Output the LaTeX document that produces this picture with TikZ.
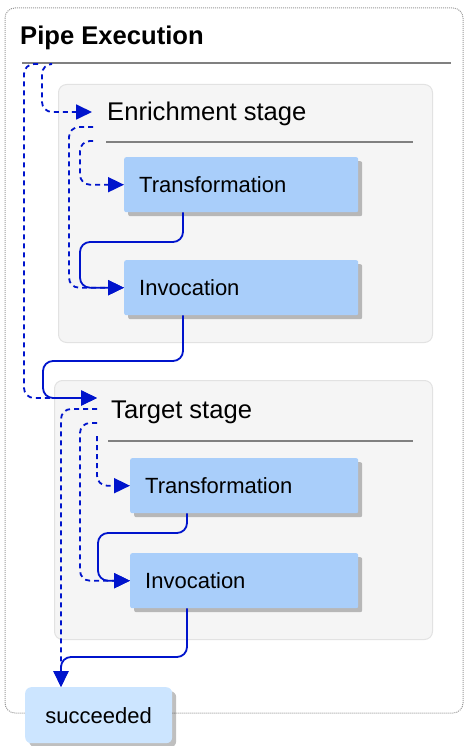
\documentclass[tikz,border=0pt]{standalone}
\usepackage{fontspec}
\setmainfont{Liberation Sans}
\usetikzlibrary{arrows.meta,shadows}

\definecolor{flowblue}{RGB}{0,20,204}
\definecolor{taskfill}{RGB}{169,206,250}
\definecolor{donefill}{RGB}{204,229,255}
\definecolor{stagefill}{RGB}{245,245,245}
\definecolor{stageline}{RGB}{226,226,226}
\definecolor{headline}{RGB}{128,128,128}

\newcommand{\headfont}{\fontsize{25.6}{30}\selectfont}
\newcommand{\taskfont}{\fontsize{22}{26}\selectfont}

\tikzset{
  flow/.style={draw=flowblue, line width=1.8pt, rounded corners=10pt,
    -{Triangle[length=16pt,width=15pt]}},
  altflow/.style={flow, dash pattern=on 5pt off 4pt},
  stagebox/.style={draw=stageline, line width=1pt, fill=stagefill,
    rounded corners=8pt, anchor=north west, inner sep=0},
  taskbox/.style={fill=taskfill, rounded corners=2pt, anchor=north west,
    minimum height=55pt, text width=#1, align=left, inner xsep=15pt,
    font=\taskfont,
    drop shadow={shadow xshift=4pt, shadow yshift=-4pt, fill=black, opacity=0.25}},
  donebox/.style={fill=donefill, rounded corners=6pt, anchor=north west,
    minimum width=147pt, minimum height=56pt, font=\taskfont,
    drop shadow={shadow xshift=4pt, shadow yshift=-4pt, fill=black, opacity=0.25}},
  headtext/.style={anchor=base west, inner sep=0, font=\headfont}
}

\begin{document}
\begin{tikzpicture}[x=1pt, y=-1pt]
\useasboundingbox (0,0) rectangle (465,746);

% outer pipe
\draw[gray!80, line width=1pt, dash pattern=on 1pt off 1pt, rounded corners=10pt] (5,8) rectangle (463,713);
\node[headtext, font=\bfseries\headfont] (pipetitle) at (20,45) {Pipe Execution};
\draw[headline, line width=1.2pt] (22,63) -- (451,63);

% stages
\node[stagebox, minimum width=374pt, minimum height=258pt] (enrstage) at (58,84) {};
\node[headtext] (enrhead) at (107,121) {Enrichment stage};
\draw[headline, line width=1.2pt] (106,142) -- (413,142);

\node[stagebox, minimum width=378pt, minimum height=259pt] (tgtstage) at (54,380) {};
\node[headtext] (tgthead) at (111,418) {Target stage};
\draw[headline, line width=1.2pt] (108,441) -- (413,441);

% tasks
\node[taskbox=204pt] (etrans) at (124,157) {Transformation};
\node[taskbox=204pt] (einv) at (124,260) {Invocation};
\node[taskbox=198pt] (ttrans) at (130,458) {Transformation};
\node[taskbox=198pt] (tinv) at (130,553) {Invocation};
\node[donebox] (succ) at (25,687) {succeeded};

% ports
\coordinate (pipeout1) at (50,64);
\coordinate (pipeout2) at (38,64);
\coordinate (enrin) at (92,112);
\coordinate (enrout1) at (93,127);
\coordinate (enrout2) at (93,141);
\coordinate (tgtin) at (97,398);
\coordinate (tgtout1) at (97,409);
\coordinate (tgtout2) at (97,423);
\coordinate (tgtout3) at (97,436);

% connectors
\draw[altflow] (pipeout1) -- (42,64) |- (enrin);
\draw[altflow] (pipeout2) -- (24,64) |- (tgtin);
\draw[altflow] (enrout1) -- (69,127) |- (einv.west);
\draw[altflow] (enrout2) -- (80,141) |- (etrans.west);
\draw[flow] ([xshift=59pt]etrans.south west) |- (80,242) |- (einv.west);
\draw[flow] ([xshift=59pt]einv.south west) |- (43,361) |- (tgtin);
\draw[altflow] (tgtout1) -| ([xshift=36pt]succ.north west);
\draw[altflow] (tgtout2) -- (80,423) |- (tinv.west);
\draw[altflow] (tgtout3) |- (ttrans.west);
\draw[flow] ([xshift=57pt]ttrans.south west) |- (98,533) |- (tinv.west);
\draw[flow] ([xshift=57pt]tinv.south west) |- (61,657) -- ([xshift=36pt]succ.north west);
\end{tikzpicture}
\end{document}
